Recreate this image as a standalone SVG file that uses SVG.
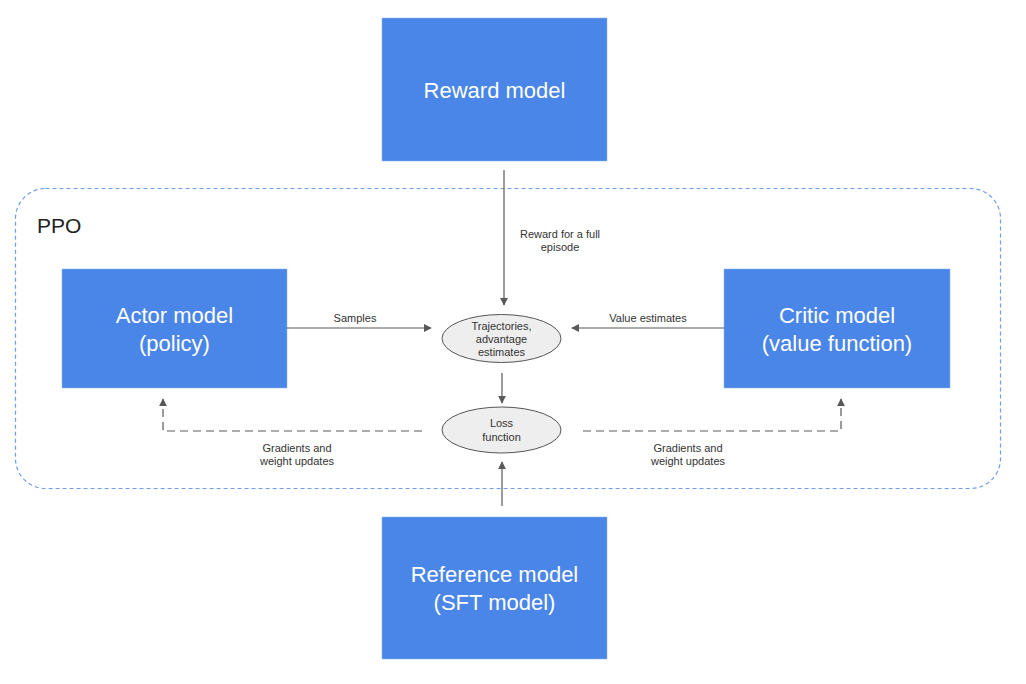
<svg xmlns="http://www.w3.org/2000/svg" width="1026" height="684" viewBox="0 0 1026 684">
<style>
.box{fill:#4a86e8;stroke:#8fb3f0;stroke-width:0.5}
.bt{font-family:"Liberation Sans",Arial,sans-serif;font-size:22px;fill:#ffffff;text-anchor:middle}
.el{fill:#eeeeee;stroke:#555555;stroke-width:1}
.et{font-family:"Liberation Sans",Arial,sans-serif;font-size:11px;fill:#333333;text-anchor:middle}
.lt{font-family:"Liberation Sans",Arial,sans-serif;font-size:11px;fill:#333333;text-anchor:middle}
.ln{stroke:#595959;stroke-width:1.2;fill:none}
.dl{stroke:#595959;stroke-width:1.2;fill:none;stroke-dasharray:8,5}
</style>
<defs>
<marker id="ah" viewBox="0 0 10 10" refX="9" refY="5" markerWidth="8" markerHeight="8" markerUnits="userSpaceOnUse" orient="auto">
<path d="M0,0 L10,5 L0,10 z" fill="#595959"/>
</marker>
</defs>
<rect width="1026" height="684" fill="#ffffff"/>
<g id="ppo">
<rect x="15.5" y="188.5" width="985" height="300" rx="30" ry="30" fill="none" stroke="#6d9eeb" stroke-width="1.2" stroke-dasharray="4,3"/>
<text x="37" y="233" font-family="Liberation Sans, Arial, sans-serif" font-size="21" fill="#222222">PPO</text>
</g>
<g id="reward">
<rect class="box" x="382" y="18" width="225" height="143"/>
<text class="bt" x="494.5" y="98">Reward model</text>
</g>
<g id="reference">
<rect class="box" x="382" y="517" width="225" height="142"/>
<text class="bt" x="494.5" y="582">Reference model</text>
<text class="bt" x="494.5" y="610">(SFT model)</text>
</g>
<g id="actor">
<rect class="box" x="62" y="269" width="225" height="119"/>
<text class="bt" x="174.5" y="323">Actor model</text>
<text class="bt" x="174.5" y="351">(policy)</text>
</g>
<g id="critic">
<rect class="box" x="724" y="269" width="226" height="119"/>
<text class="bt" x="837" y="323">Critic model</text>
<text class="bt" x="837" y="351">(value function)</text>
</g>
<g id="trajectories">
<ellipse class="el" cx="501.5" cy="338.5" rx="59.5" ry="24"/>
<text class="et" x="501.5" y="330">Trajectories,</text>
<text class="et" x="501.5" y="343">advantage</text>
<text class="et" x="501.5" y="356">estimates</text>
</g>
<g id="loss">
<ellipse class="el" cx="501.5" cy="430" rx="59.5" ry="23"/>
<text class="et" x="501.5" y="427">Loss</text>
<text class="et" x="501.5" y="441">function</text>
</g>
<g id="connectors">
<line class="ln" x1="504" y1="170" x2="504" y2="305" marker-end="url(#ah)"/>
<text class="lt" x="560" y="238">Reward for a full</text>
<text class="lt" x="560" y="251">episode</text>
<line class="ln" x1="287" y1="328" x2="431" y2="328" marker-end="url(#ah)"/>
<text class="lt" x="355" y="322">Samples</text>
<line class="ln" x1="724" y1="328" x2="572" y2="328" marker-end="url(#ah)"/>
<text class="lt" x="648" y="322">Value estimates</text>
<line class="ln" x1="502" y1="373" x2="502" y2="403" marker-end="url(#ah)"/>
<line class="ln" x1="502" y1="506" x2="502" y2="462" marker-end="url(#ah)"/>
<polyline class="dl" points="422,431 163,431 163,399" marker-end="url(#ah)"/>
<text class="lt" x="297" y="452">Gradients and</text>
<text class="lt" x="297" y="465">weight updates</text>
<polyline class="dl" points="583,431 841,431 841,399" marker-end="url(#ah)"/>
<text class="lt" x="688" y="452">Gradients and</text>
<text class="lt" x="688" y="465">weight updates</text>
</g>
</svg>
